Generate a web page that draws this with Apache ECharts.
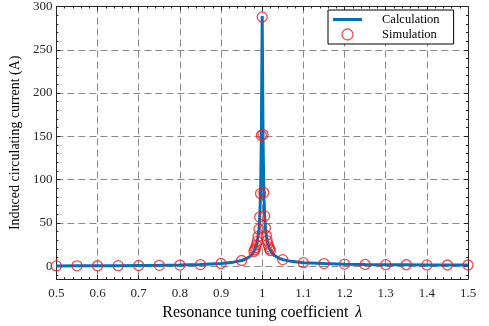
<!DOCTYPE html>
<html>
<head>
<meta charset="utf-8">
<script src="https://cdn.jsdelivr.net/npm/echarts@6/dist/echarts.min.js"></script>
<style>
html,body{margin:0;padding:0;background:#fff;}
#chart{width:489px;height:326px;}
</style>
</head>
<body>
<div id="chart"></div>
<script>
// Simulation points (lambda, current A)
var simX = [0.5,0.55,0.6,0.65,0.7,0.75,0.8,0.85,0.9,0.95,
  0.98,0.982,0.984,0.986,0.988,0.99,0.992,0.994,0.996,0.998,1.0,
  1.002,1.004,1.006,1.008,1.01,1.012,1.014,1.016,1.018,1.02,
  1.05,1.1,1.15,1.2,1.25,1.3,1.35,1.4,1.45,1.5];
var simY = [0.2,0.3,0.4,0.5,0.7,0.9,1.2,1.8,3.0,6.5,
  17.0,18.9,21.3,24.4,28.6,34.4,42.7,56.7,84,151,288,
  152,85,58,44,35.3,29.5,25.4,22.3,19.9,18.0,
  7.5,4.0,2.9,2.3,1.9,1.7,1.6,1.4,1.3,1.3];
// Calculation curve
var calcX = [0.5,0.55,0.6,0.65,0.7,0.75,0.8,0.85,0.9,0.93,0.95,0.96,0.97,0.975,
  0.98,0.982,0.984,0.986,0.988,0.99,0.992,0.994,0.996,0.998,0.999,1.0,
  1.001,1.002,1.004,1.006,1.008,1.01,1.012,1.014,1.016,1.018,1.02,1.025,1.03,1.04,
  1.05,1.07,1.1,1.15,1.2,1.25,1.3,1.35,1.4,1.45,1.5];
var calcY = [0.2,0.3,0.4,0.5,0.7,0.9,1.2,1.8,3.0,4.6,6.5,8.2,11.1,13.5,
  17.0,18.9,21.3,24.4,28.6,34.4,42.7,56.7,84,150,222,289,
  222,151,84,57.7,43.8,35.3,29.5,25.4,22.3,19.9,18.0,14.5,12.2,9.3,
  7.5,5.5,4.0,2.9,2.3,1.9,1.7,1.6,1.4,1.3,1.3];
var xMin = 0.5, xMax = 1.5, xStep = 0.1;
var yMin = -15, yMax = 300;

function pairs(xs, ys){ return xs.map(function(x,i){ return [x, ys[i]]; }); }

var axisColor = '#262626';
var blue = '#0072BD', red = '#ee1c24';
var font = '"Liberation Serif", "DejaVu Serif", serif';
var tickCommon = { show: true, inside: true, length: 4, lineStyle: { color: axisColor, width: 1 } };
var minorCommon = { show: true, splitNumber: 5, length: 2, lineStyle: { color: axisColor, width: 1 } };
var gridLine = { show: true, lineStyle: { color: '#8a8a8a', width: 1, type: [7, 4] } };

var chart = echarts.init(document.getElementById('chart'), null, { renderer: 'canvas' });
chart.setOption({
  animation: false,
  backgroundColor: '#fff',
  grid: { left: 56, right: 21, top: 4.5, bottom: 45.5 },
  legend: {
    orient: 'vertical',
    left: 328, top: 10,
    backgroundColor: '#fff',
    borderColor: '#000', borderWidth: 1,
    padding: [3, 14, 3, 5],
    itemGap: 2,
    itemWidth: 29, itemHeight: 11,
    textStyle: { fontFamily: font, fontSize: 12.5, color: '#000', padding: [0, 0, 0, 15] },
    data: [
      { name: 'Calculation', icon: 'path://M0,0 H29 V3 H0 Z', itemStyle: { color: blue } },
      { name: 'Simulation', icon: 'circle',
        itemStyle: { color: 'rgba(0,0,0,0)', borderColor: red, borderWidth: 1.3 } }
    ]
  },
  xAxis: [{
    type: 'value', min: xMin, max: xMax, interval: xStep,
    position: 'bottom',
    name: '{a|Resonance tuning coefficient}  {b|λ}',
    nameLocation: 'middle', nameGap: 23,
    nameTextStyle: { rich: {
      a: { fontFamily: font, fontSize: 16, color: '#000' },
      b: { fontFamily: font, fontSize: 16, fontStyle: 'italic', color: '#000' } } },
    axisLine: { show: true, onZero: false, lineStyle: { color: axisColor, width: 1 } },
    axisTick: tickCommon, minorTick: minorCommon,
    axisLabel: { fontFamily: font, fontSize: 13, color: axisColor, margin: 8 },
    splitLine: gridLine
  }, {
    type: 'value', min: xMin, max: xMax, interval: xStep,
    position: 'top',
    axisLine: { show: true, onZero: false, lineStyle: { color: axisColor, width: 1 } },
    axisTick: tickCommon, minorTick: minorCommon,
    axisLabel: { show: false }, splitLine: { show: false }
  }],
  yAxis: [{
    type: 'value', min: yMin, max: yMax,
    position: 'left',
    name: 'Induced circulating current (A)',
    nameLocation: 'middle', nameGap: 25,
    nameTextStyle: { fontFamily: font, fontSize: 14, color: '#000' },
    axisLine: { show: true, onZero: false, lineStyle: { color: axisColor, width: 1 } },
    axisTick: tickCommon, minorTick: minorCommon,
    axisLabel: { fontFamily: font, fontSize: 13, color: axisColor, margin: 4,
      formatter: function(v){ return v < 0 ? '' : String(v); } },
    splitLine: gridLine
  }, {
    type: 'value', min: yMin, max: yMax,
    position: 'right',
    axisLine: { show: true, onZero: false, lineStyle: { color: axisColor, width: 1 } },
    axisTick: tickCommon, minorTick: minorCommon,
    axisLabel: { show: false }, splitLine: { show: false }
  }],
  series: [{
    name: 'Calculation',
    type: 'line',
    xAxisIndex: 0, yAxisIndex: 0,
    data: pairs(calcX, calcY),
    symbol: 'none',
    lineStyle: { color: blue, width: 3 },
    itemStyle: { color: blue },
    z: 2
  }, {
    name: 'Simulation',
    type: 'scatter',
    xAxisIndex: 0, yAxisIndex: 0,
    data: pairs(simX, simY),
    symbol: 'circle',
    symbolSize: 10,
    clip: false,
    itemStyle: { color: 'rgba(0,0,0,0)', borderColor: red, borderWidth: 1.3 },
    z: 3
  }]
});
</script>
</body>
</html>
